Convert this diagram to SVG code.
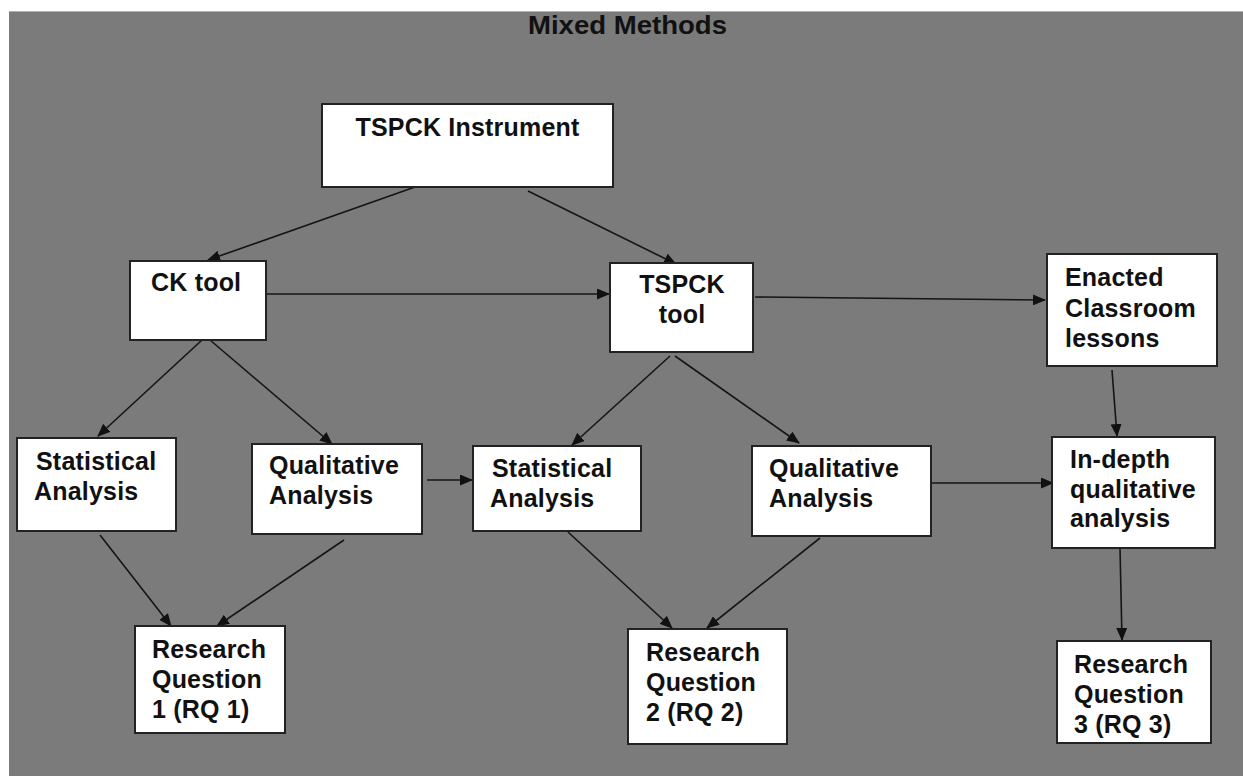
<svg xmlns="http://www.w3.org/2000/svg" width="1243" height="776" viewBox="0 0 1243 776">
  <defs>
    <marker id="arrow" viewBox="0 0 13 11" refX="12" refY="5.5" markerWidth="13" markerHeight="11" markerUnits="userSpaceOnUse" orient="auto">
      <path d="M0,0 L13,5.5 L0,11 Z" fill="#111"/>
    </marker>
    <style>
      .box { fill: #ffffff; stroke: #222; stroke-width: 2; }
      .lbl { font-family: "Liberation Sans", Arial, sans-serif; font-weight: bold; font-size: 25px; letter-spacing: 0.2px; fill: #111; }
      .title { font-family: "Liberation Sans", Arial, sans-serif; font-weight: bold; font-size: 25px; fill: #111; }
      .conn line { stroke: #151515; stroke-width: 1.6; fill: none; marker-end: url(#arrow); }
    </style>
  </defs>

  <!-- page -->
  <rect x="0" y="0" width="1243" height="776" fill="#ffffff"/>
  <rect x="9" y="11" width="1234" height="765" fill="#7b7b7b"/>
  <line x1="9" y1="11.5" x2="1243" y2="11.5" stroke="#b0b0b0" stroke-width="1"/>

  <text class="title" x="528" y="34" textLength="199" lengthAdjust="spacingAndGlyphs">Mixed Methods</text>

  <!-- connectors -->
  <g id="connectors" class="conn">
    <line x1="415" y1="187" x2="208" y2="260"/>
    <line x1="528" y1="191" x2="676" y2="264"/>
    <line x1="260" y1="294" x2="609" y2="294"/>
    <line x1="755" y1="297" x2="1045" y2="300"/>
    <line x1="202" y1="340" x2="98" y2="436"/>
    <line x1="210" y1="340" x2="332" y2="444"/>
    <line x1="670" y1="356" x2="572" y2="445"/>
    <line x1="675" y1="356" x2="799" y2="443"/>
    <line x1="1112" y1="370" x2="1117" y2="436"/>
    <line x1="427" y1="480" x2="472" y2="480"/>
    <line x1="932" y1="483" x2="1053" y2="483"/>
    <line x1="100" y1="535" x2="171" y2="626"/>
    <line x1="344" y1="540" x2="217" y2="626"/>
    <line x1="568" y1="532" x2="672" y2="628"/>
    <line x1="820" y1="538" x2="707" y2="628"/>
    <line x1="1120" y1="548" x2="1122" y2="640"/>
  </g>

  <g id="tspck-instrument">
    <rect class="box" x="322" y="104" width="291" height="83"/>
    <text class="lbl" x="467.5" y="136" text-anchor="middle">TSPCK Instrument</text>
  </g>

  <g id="ck-tool">
    <rect class="box" x="130" y="261" width="136" height="79"/>
    <text class="lbl" x="151" y="291">CK tool</text>
  </g>

  <g id="tspck-tool">
    <rect class="box" x="610" y="263" width="143" height="89"/>
    <text class="lbl" x="682" y="293" text-anchor="middle">TSPCK</text>
    <text class="lbl" x="682" y="323" text-anchor="middle">tool</text>
  </g>

  <g id="enacted-lessons">
    <rect class="box" x="1047" y="254" width="170" height="112"/>
    <text class="lbl" x="1065" y="286">Enacted</text>
    <text class="lbl" x="1065" y="317">Classroom</text>
    <text class="lbl" x="1065" y="347">lessons</text>
  </g>

  <g id="statistical-analysis-1">
    <rect class="box" x="17" y="438" width="159" height="93"/>
    <text class="lbl" x="36" y="470">Statistical</text>
    <text class="lbl" x="34" y="500">Analysis</text>
  </g>

  <g id="qualitative-analysis-1">
    <rect class="box" x="252" y="444" width="170" height="90"/>
    <text class="lbl" x="269" y="474">Qualitative</text>
    <text class="lbl" x="269" y="504">Analysis</text>
  </g>

  <g id="statistical-analysis-2">
    <rect class="box" x="473" y="446" width="168" height="85"/>
    <text class="lbl" x="492" y="477">Statistical</text>
    <text class="lbl" x="490" y="507">Analysis</text>
  </g>

  <g id="qualitative-analysis-2">
    <rect class="box" x="752" y="446" width="179" height="90"/>
    <text class="lbl" x="769" y="477">Qualitative</text>
    <text class="lbl" x="769" y="507">Analysis</text>
  </g>

  <g id="in-depth-analysis">
    <rect class="box" x="1052" y="437" width="163" height="111"/>
    <text class="lbl" x="1070" y="468">In-depth</text>
    <text class="lbl" x="1070" y="498">qualitative</text>
    <text class="lbl" x="1070" y="527">analysis</text>
  </g>

  <g id="research-question-1">
    <rect class="box" x="135" y="626" width="150" height="107"/>
    <text class="lbl" x="152" y="658">Research</text>
    <text class="lbl" x="152" y="688">Question</text>
    <text class="lbl" x="152" y="718">1 (RQ 1)</text>
  </g>

  <g id="research-question-2">
    <rect class="box" x="628" y="629" width="159" height="115"/>
    <text class="lbl" x="646" y="661">Research</text>
    <text class="lbl" x="646" y="691">Question</text>
    <text class="lbl" x="646" y="721">2 (RQ 2)</text>
  </g>

  <g id="research-question-3">
    <rect class="box" x="1057" y="641" width="154" height="102"/>
    <text class="lbl" x="1074" y="673">Research</text>
    <text class="lbl" x="1074" y="703">Question</text>
    <text class="lbl" x="1074" y="733">3 (RQ 3)</text>
  </g>
</svg>
